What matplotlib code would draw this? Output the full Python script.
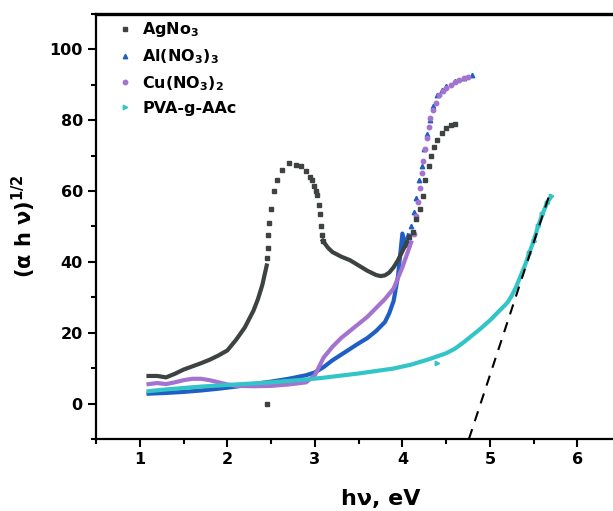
import matplotlib
matplotlib.use('Agg')
import matplotlib.pyplot as plt
from matplotlib.lines import Line2D
from matplotlib.ticker import MultipleLocator

plt.rcParams['font.family'] = ['DejaVu Sans']
plt.rcParams['font.weight'] = 'bold'
plt.rcParams['mathtext.default'] = 'bf'

# AgNO3: continuous parts and the sparse dotted peak
ag_x1 = [1.1, 1.2, 1.3, 1.4, 1.5, 1.6, 1.7, 1.8, 1.9, 2.0, 2.1, 2.2, 2.3, 2.35, 2.4, 2.45]
ag_y1 = [7.8, 7.8, 7.4, 8.4, 9.6, 10.5, 11.4, 12.4, 13.6, 15, 18, 21.5, 26.3, 29.5, 33.5, 39]
ag_xp = [2.45, 2.46, 2.47, 2.48, 2.50, 2.53, 2.57, 2.63, 2.70, 2.78, 2.84, 2.90, 2.94,
         2.97, 2.99, 3.01, 3.03, 3.05, 3.06, 3.07, 3.08, 3.09, 2.45]
ag_yp = [41, 44, 47.5, 51, 55, 60, 63, 66, 67.8, 67.5, 67, 65.8, 64,
         63, 61.5, 60, 59, 56, 53.5, 50, 47.5, 46, 0]
ag_x2 = [3.09, 3.15, 3.2, 3.3, 3.4, 3.5, 3.6, 3.7, 3.75, 3.8, 3.85, 3.9, 3.95, 4.0, 4.05]
ag_y2 = [46, 44, 42.8, 41.5, 40.5, 39, 37.5, 36.3, 36, 36.2, 37, 38.5, 40.5, 43, 45.5]
ag_x3 = [4.08, 4.12, 4.16, 4.2, 4.23, 4.26, 4.3, 4.33, 4.36, 4.4, 4.45, 4.5, 4.55, 4.6]
ag_y3 = [47, 48.5, 52, 55, 58.5, 63, 67, 70, 72.5, 74.5, 76.5, 77.8, 78.6, 79]

# Al(NO3)3
al_x1 = [1.1, 1.3, 1.5, 1.7, 1.9, 2.1, 2.3, 2.5, 2.7, 2.9, 3.0, 3.1, 3.2, 3.3, 3.4, 3.5,
         3.6, 3.7, 3.8, 3.85, 3.9, 3.95, 4.0, 4.04, 4.07]
al_y1 = [2.8, 3.0, 3.3, 3.7, 4.2, 4.8, 5.5, 6.2, 7.0, 8.0, 8.8, 10.3, 12.2, 13.8, 15.4, 17,
         18.5, 20.5, 23, 25.5, 29, 36, 48, 44.5, 47.5]
al_x2 = [4.1, 4.13, 4.16, 4.19, 4.22, 4.25, 4.28, 4.31, 4.35, 4.4, 4.45, 4.5, 4.6, 4.7, 4.8]
al_y2 = [50, 54, 58, 63, 67, 72, 76, 80, 84, 87, 88.5, 89.8, 91, 92, 92.8]

# Cu(NO3)2
cu_x1 = [1.1, 1.2, 1.3, 1.4, 1.5, 1.6, 1.7, 1.8, 1.9, 2.0, 2.1, 2.3, 2.5, 2.7, 2.9, 3.0,
         3.05, 3.1, 3.2, 3.3, 3.4, 3.5, 3.6, 3.7, 3.8, 3.9, 3.95, 4.0, 4.05, 4.1]
cu_y1 = [5.5, 5.8, 5.5, 6.0, 6.6, 7.0, 7.0, 6.6, 6.0, 5.4, 5.0, 4.9, 5.0, 5.4, 6.0, 8.0,
         10.5, 13, 16, 18.5, 20.5, 22.5, 24.5, 27, 29.5, 32.5, 35.5, 38.5, 42, 45.5]
cu_x2 = [4.13, 4.16, 4.18, 4.2, 4.22, 4.24, 4.26, 4.28, 4.3, 4.32, 4.35, 4.38, 4.42, 4.46,
         4.5, 4.55, 4.6, 4.65, 4.7, 4.75]
cu_y2 = [48, 53, 57, 61, 65, 68.5, 72, 75, 78, 80.5, 83, 85, 87, 88.3,
         89.2, 90, 90.7, 91.3, 91.8, 92.3]

# PVA-g-AAc
pva_x = [1.1, 1.3, 1.5, 1.7, 1.9, 2.1, 2.3, 2.5, 2.7, 2.9, 3.1, 3.3, 3.5, 3.7, 3.9, 4.1,
         4.3, 4.5, 4.6, 4.7, 4.8, 4.9, 5.0, 5.1, 5.2, 5.25, 5.3, 5.35, 5.4, 5.45, 5.5,
         5.55, 5.6, 5.65, 5.7]
pva_y = [3.5, 4.0, 4.4, 4.8, 5.1, 5.4, 5.7, 6.0, 6.4, 6.8, 7.3, 7.9, 8.5, 9.2, 9.9, 11.0,
         12.5, 14.2, 15.5, 17.3, 19.3, 21.3, 23.5, 26, 28.5, 30.5, 33, 36, 39, 42.5, 46,
         50, 53.5, 56.5, 58.5]
pva_xo = [4.4]
pva_yo = [11.5]

# linear fit (Tauc extrapolation)
fit_x = [4.76, 5.68]
fit_y = [-10, 59]

labels = ['AgNo$_3$', 'Al(NO$_3$)$_3$', 'Cu(NO$_3$)$_2$', 'PVA-g-AAc']
colors = ['#3e4242', '#1f5fc4', '#a473cf', '#33c4c8']
markers = ['s', '^', 'o', '>']

fig = plt.figure(figsize=(6.13, 5.11), dpi=100)
ax = fig.add_axes([96 / 613, 72 / 511, 569 / 613, 425 / 511])

lw = 3.0
ax.plot(al_x1, al_y1, '-', color=colors[1], lw=lw, zorder=2)
ax.plot(al_x2, al_y2, '^', color=colors[1], ms=3.2, zorder=2)
ax.plot(cu_x1, cu_y1, '-', color=colors[2], lw=lw, zorder=3)
ax.plot(cu_x2, cu_y2, 'o', color=colors[2], ms=3.2, zorder=3)
ax.plot(pva_x, pva_y, '-', color=colors[3], lw=lw, zorder=4)
ax.plot(pva_x[-6:], pva_y[-6:], '>', color=colors[3], ms=3.2, zorder=4)
ax.plot(pva_xo, pva_yo, '>', color=colors[3], ms=3.2, zorder=4)
ax.plot(ag_x1, ag_y1, '-', color=colors[0], lw=lw, zorder=5)
ax.plot(ag_xp, ag_yp, 's', color=colors[0], ms=2.5, zorder=5)
ax.plot(ag_x2, ag_y2, '-', color=colors[0], lw=lw, zorder=5)
ax.plot(ag_x3, ag_y3, 's', color=colors[0], ms=3.0, zorder=5)
ax.plot(fit_x, fit_y, '--', color='black', lw=1.5, dashes=(5, 4), zorder=6)

ax.set_xlim(0.5, 7.0)
ax.set_ylim(-10, 110)
ax.xaxis.set_minor_locator(MultipleLocator(0.5))
ax.yaxis.set_minor_locator(MultipleLocator(10))
ax.set_yticks([0, 20, 40, 60, 80, 100])
ax.set_xticks([1, 2, 3, 4, 5, 6])
ax.tick_params(which='major', direction='out', length=6, width=1.5, labelsize=11.5)
ax.tick_params(which='minor', direction='out', length=3.5, width=1.5)
for t in ax.get_xticklabels() + ax.get_yticklabels():
    t.set_fontweight('bold')
for s in ['left', 'bottom']:
    ax.spines[s].set_linewidth(1.6)
ax.spines['top'].set_linewidth(2.4)
ax.spines['right'].set_visible(False)

ax.set_xlabel('hν, eV', fontsize=16, fontweight='bold', labelpad=16)
ax.set_ylabel('(α h ν)$^{1/2}$', fontsize=15, fontweight='bold', labelpad=8)

handles = [Line2D([], [], ls='none', marker=m, color=c, ms=3.2) for m, c in zip(markers, colors)]
ax.legend(handles, labels, loc='upper left', frameon=False,
          prop={'weight': 'bold', 'size': 11.5}, handlelength=1.0, handletextpad=0.6,
          labelspacing=0.5, borderaxespad=0.0, bbox_to_anchor=(0.025, 1.0))

fig.savefig('out.png', dpi=100)
